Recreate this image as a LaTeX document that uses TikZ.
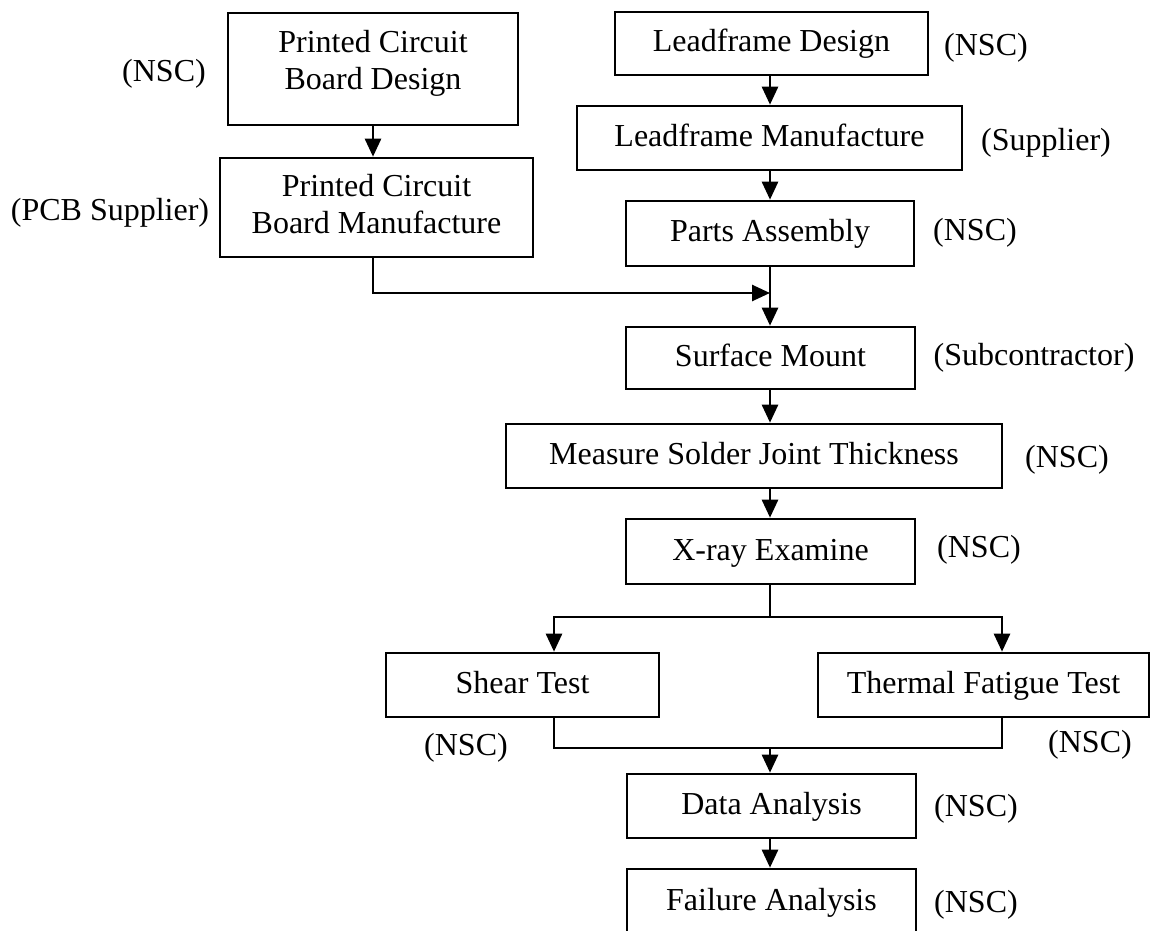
\documentclass[tikz,border=0pt]{standalone}
\usepackage{fontspec}
\setmainfont{Liberation Serif}
\usetikzlibrary{arrows.meta}
\begin{document}
\begin{tikzpicture}[x=0.5pt,y=-0.5pt,
  box/.style={draw, line width=1.3pt, inner sep=0pt, text height=12pt, text depth=3.5pt},
  boxtwo/.style={draw, line width=1.3pt, inner sep=0pt},
  lab/.style={inner sep=0pt},
  arr/.style={-{Triangle[length=9pt,width=8pt]}, line width=1.3pt},
  conn/.style={line width=1.3pt},
  font=\fontsize{16}{18.5}\selectfont]
\useasboundingbox (0,0) rectangle (1152,931);
\clip (0,0) rectangle (1152,931);
\fill[white] (0,0) rectangle (1152,931);

% boxes
\node[boxtwo, minimum width=145pt, minimum height=56pt] (pcbd) at (373,69)
  {\raisebox{2.5pt}[\height][\depth]{\begin{tabular}{@{}c@{}}Printed Circuit\\Board Design\end{tabular}}};
\node[boxtwo, minimum width=156.5pt, minimum height=49.5pt] (pcbm) at (376.5,207.5)
  {\begin{tabular}{@{}c@{}}Printed Circuit\\Board Manufacture\end{tabular}};
\node[box, minimum width=156.5pt, minimum height=31.5pt] (ldd) at (771.5,43.5) {Leadframe Design};
\node[box, minimum width=192.5pt, minimum height=32pt] (ldm) at (769.5,138) {Leadframe Manufacture};
\node[box, minimum width=144pt, minimum height=32.5pt] (pa) at (770,233.5) {Parts Assembly};
\node[box, minimum width=144.5pt, minimum height=31pt] (sm) at (770.5,358) {Surface Mount};
\node[box, minimum width=248pt, minimum height=32pt] (msj) at (754,456) {Measure Solder Joint Thickness};
\node[box, minimum width=144.5pt, minimum height=32.5pt] (xr) at (770.5,551.5) {X-ray Examine};
\node[box, minimum width=136.5pt, minimum height=32pt] (st) at (522.5,685) {Shear Test};
\node[box, minimum width=165.5pt, minimum height=32pt] (tf) at (983.5,685) {Thermal Fatigue Test};
\node[box, minimum width=144.5pt, minimum height=32pt] (da) at (771.5,806) {Data Analysis};
\node[box, minimum width=144.5pt, minimum height=33pt] (fa) at (771.5,902) {Failure Analysis};

% labels
\node[lab] (l1) at (164,74) {(NSC)};
\node[lab] (l2) at (110,213) {(PCB Supplier)};
\node[lab] (l3) at (986,48) {(NSC)};
\node[lab] (l4) at (1046,143) {(Supplier)};
\node[lab] (l5) at (975,233) {(NSC)};
\node[lab] (l6) at (1034,358) {(Subcontractor)};
\node[lab] (l7) at (1067,460) {(NSC)};
\node[lab] (l8) at (979,550) {(NSC)};
\node[lab] (l9) at (466,748) {(NSC)};
\node[lab] (l10) at (1090,745) {(NSC)};
\node[lab] (l11) at (976,809) {(NSC)};
\node[lab] (l12) at (976,905) {(NSC)};

% helper coordinates
\coordinate (col) at (770,0);
\coordinate (j1) at (770,293);
\coordinate (split) at (770,617);
\coordinate (merge) at (770,748);
\coordinate (stx) at (554,0);
\coordinate (tfx) at (1002,0);

% connectors
\draw[arr] (pcbd.south) -- (pcbd.south |- pcbm.north);
\draw[arr] (pcbd.south |- pcbm.south) |- (j1);
\draw[arr] (ldd.south -| col) -- (ldm.north -| col);
\draw[arr] (ldm.south -| col) -- (pa.north -| col);
\draw[arr] (pa.south -| col) -- (sm.north -| col);
\draw[arr] (sm.south -| col) -- (msj.north -| col);
\draw[arr] (msj.south -| col) -- (xr.north -| col);
\draw[conn] (xr.south -| col) -- (split);
\draw[arr] (split) -| (st.north -| stx);
\draw[arr] (split) -| (tf.north -| tfx);
\draw[conn] (st.south -| stx) |- (merge);
\draw[conn] (tf.south -| tfx) |- (merge);
\draw[arr] (merge) -- (da.north -| col);
\draw[arr] (da.south -| col) -- (fa.north -| col);
\end{tikzpicture}
\end{document}
